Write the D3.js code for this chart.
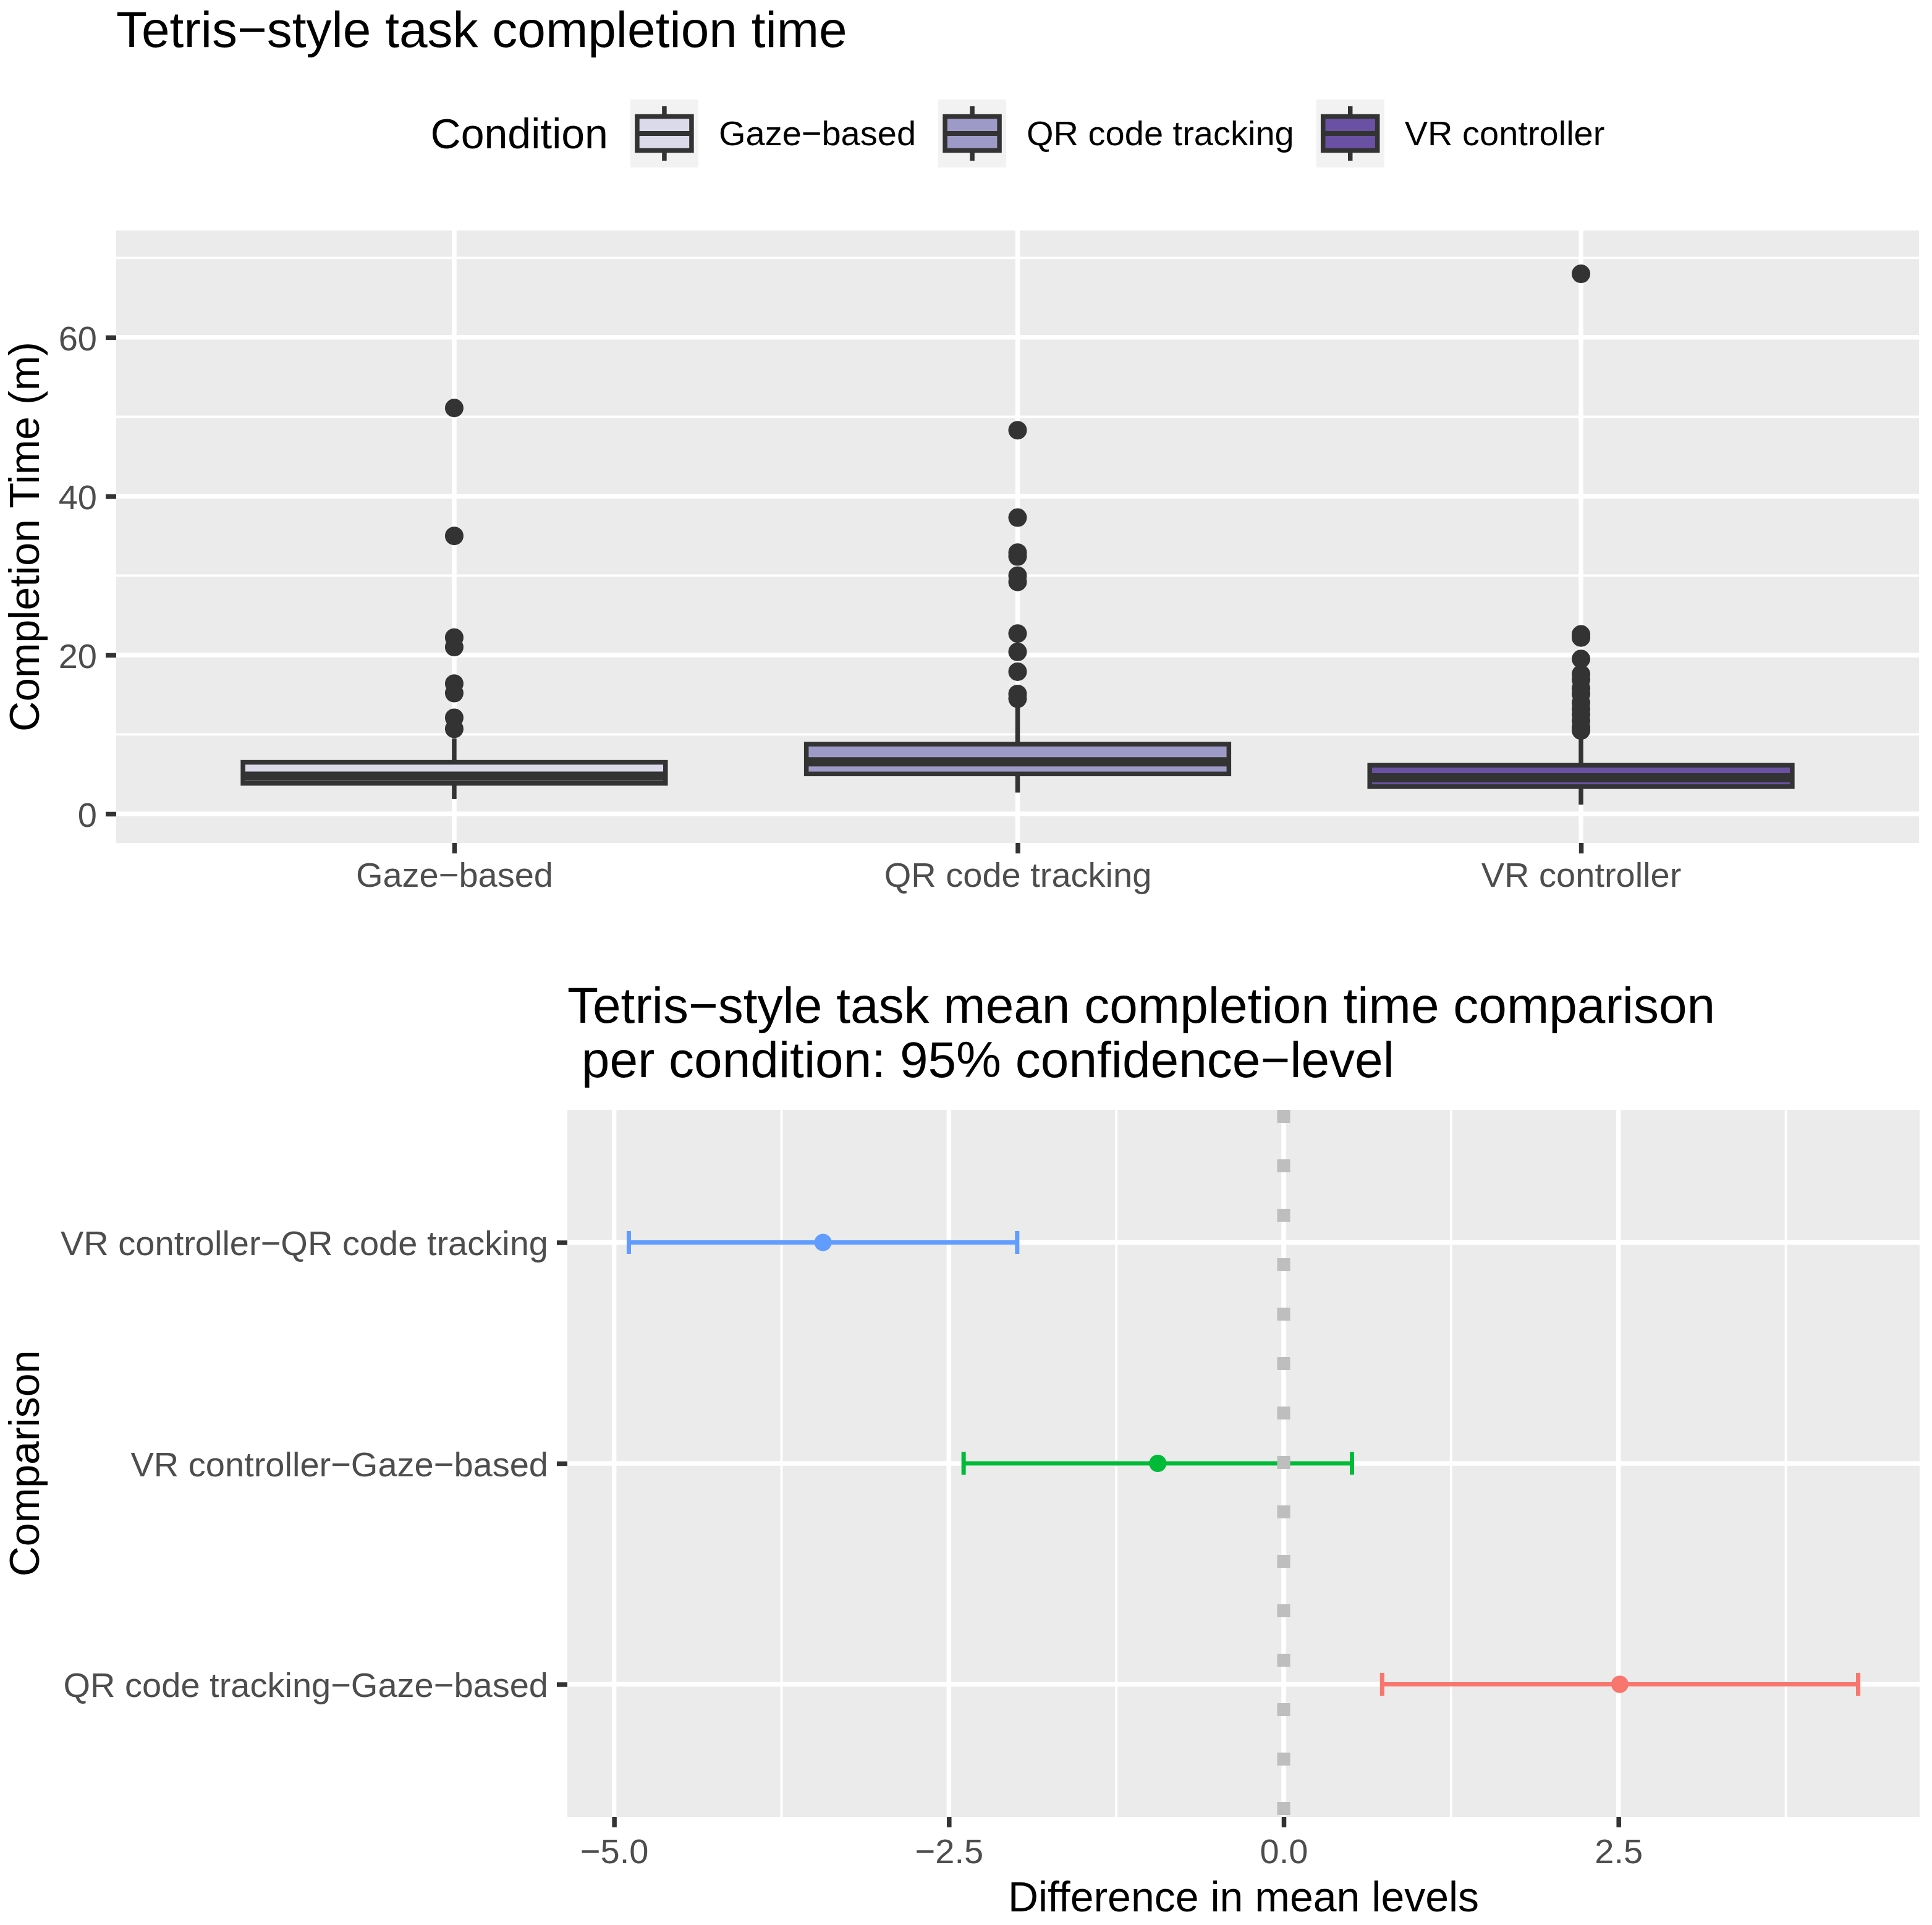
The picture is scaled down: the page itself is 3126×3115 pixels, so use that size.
<!DOCTYPE html>
<html>
<head>
<meta charset="utf-8">
<script src="https://cdn.jsdelivr.net/npm/d3@7"></script>
<style>
  body { margin: 0; background: #ffffff; }
  text { font-family: "Liberation Sans", Arial, sans-serif; }
</style>
</head>
<body>
<div id="chart"></div>
<script>
// data
var conditions = ["Gaze\u2212based", "QR code tracking", "VR controller"];
var conditionFill = ["#DADAEB", "#9E9AC8", "#6A51A3"];
var boxLower = [1.87, 2.68, 1.17];
var boxQ1 = [3.84, 5.03, 3.43];
var boxMedian = [4.75, 6.55, 4.54];
var boxQ3 = [6.49, 8.77, 6.12];
var boxUpper = [9.5, 13.8, 10.0];
var outliersGaze = [51.1, 35.0, 22.2, 21.0, 16.4, 15.2, 12.1, 10.7];
var outliersQR = [48.3, 37.3, 32.9, 32.4, 30.0, 29.2, 22.7, 20.4, 17.9, 15.1, 14.5];
var outliersVR = [68.0, 22.6, 22.2, 19.5, 17.6, 16.9, 15.8, 15.1, 14.0, 13.2, 12.5, 11.7, 10.9, 10.5];
var timeTicks = [0, 20, 40, 60];
var timeMinor = [10, 30, 50, 70];

var comparisons = ["VR controller\u2212QR code tracking", "VR controller\u2212Gaze\u2212based", "QR code tracking\u2212Gaze\u2212based"];
var compColor = ["#619CFF", "#00BA38", "#F8766D"];
var diffEstimate = [-3.44, -0.94, 2.51];
var diffLower = [-4.89, -2.39, 0.735];
var diffUpper = [-1.99, 0.51, 4.29];
var diffTicks = [-5, -2.5, 0, 2.5];
var diffMinor = [-3.75, -1.25, 1.25, 3.75];

var svgWidth = 3126;
var svgHeight = 3115;

var svg = d3.select("#chart")
  .append("svg")
  .attr("width", svgWidth)
  .attr("height", svgHeight);

var axisTextColor = "#4D4D4D";
var dark = "#333333";
var tickLen = 17;
var smallFont = 56;

// ================= top plot: box plots =================
var p1 = {left: 188, right: 3105, top: 373, bottom: 1364};

var boxData = conditions.map(function(c, i) {
  return {
    name: c, fill: conditionFill[i],
    lo: boxLower[i], q1: boxQ1[i], med: boxMedian[i], q3: boxQ3[i], hi: boxUpper[i],
    out: [outliersGaze, outliersQR, outliersVR][i]
  };
});

var xCond = d3.scalePoint()
  .domain(conditions)
  .range([p1.left, p1.right])
  .padding(0.6);

var yTime = d3.scaleLinear()
  .domain([-3.66, 73.45])
  .range([p1.bottom, p1.top]);

svg.append("text")
  .attr("x", p1.left)
  .attr("y", 76)
  .attr("font-size", 82)
  .attr("fill", "#000")
  .text("Tetris\u2212style task completion time");

// legend
var legend = svg.append("g");
var legTitle = legend.append("text")
  .attr("y", 240)
  .attr("font-size", 68)
  .attr("fill", "#000")
  .text("Condition");
var legItems = conditions.map(function(c) {
  return legend.append("text")
    .attr("y", 235)
    .attr("font-size", smallFont)
    .attr("fill", "#000")
    .text(c);
});
var keySize = 110;
var total = legTitle.node().getComputedTextLength();
legItems.forEach(function(t) { total += 36 + keySize + 33 + t.node().getComputedTextLength(); });
var lx = (p1.left + p1.right) / 2 - total / 2;
legTitle.attr("x", lx);
lx += legTitle.node().getComputedTextLength() + 36;
var keyTop = 161;
legItems.forEach(function(t, i) {
  var k = legend.append("g").attr("transform", "translate(" + lx + "," + keyTop + ")");
  k.append("rect").attr("width", keySize).attr("height", keySize).attr("fill", "#F2F2F2");
  k.append("line").attr("x1", keySize / 2).attr("x2", keySize / 2).attr("y1", 0.1 * keySize).attr("y2", 0.9 * keySize)
    .attr("stroke", dark).attr("stroke-width", 7.5);
  k.append("rect").attr("x", 0.1 * keySize).attr("y", 0.25 * keySize)
    .attr("width", 0.8 * keySize).attr("height", 0.5 * keySize)
    .attr("fill", conditionFill[i]).attr("stroke", dark).attr("stroke-width", 7.5);
  k.append("line").attr("x1", 0.1 * keySize).attr("x2", 0.9 * keySize).attr("y1", keySize / 2).attr("y2", keySize / 2)
    .attr("stroke", dark).attr("stroke-width", 8);
  lx += keySize + 33;
  t.attr("x", lx);
  lx += t.node().getComputedTextLength() + 36;
});

// panel + grid
svg.append("rect")
  .attr("x", p1.left).attr("y", p1.top)
  .attr("width", p1.right - p1.left).attr("height", p1.bottom - p1.top)
  .attr("fill", "#EBEBEB");

svg.selectAll(".minor1").data(timeMinor).enter().append("line")
  .attr("x1", p1.left).attr("x2", p1.right)
  .attr("y1", d => yTime(d)).attr("y2", d => yTime(d))
  .attr("stroke", "#fff").attr("stroke-width", 3.8);
svg.selectAll(".major1").data(timeTicks).enter().append("line")
  .attr("x1", p1.left).attr("x2", p1.right)
  .attr("y1", d => yTime(d)).attr("y2", d => yTime(d))
  .attr("stroke", "#fff").attr("stroke-width", 7.5);
svg.selectAll(".vmajor1").data(conditions).enter().append("line")
  .attr("x1", d => xCond(d)).attr("x2", d => xCond(d))
  .attr("y1", p1.top).attr("y2", p1.bottom)
  .attr("stroke", "#fff").attr("stroke-width", 7.5);

// axes
var leftAxis1 = d3.axisLeft(yTime).tickValues(timeTicks).tickSize(tickLen).tickPadding(14);
var gy1 = svg.append("g").attr("transform", "translate(" + p1.left + ",0)").call(leftAxis1);
var bottomAxis1 = d3.axisBottom(xCond).tickSize(tickLen).tickPadding(14);
var gx1 = svg.append("g").attr("transform", "translate(0," + p1.bottom + ")").call(bottomAxis1);
[gy1, gx1].forEach(function(g) {
  g.select(".domain").remove();
  g.selectAll(".tick line").attr("stroke", dark).attr("stroke-width", 7.5);
  g.selectAll(".tick text").attr("fill", axisTextColor).attr("font-size", smallFont)
    .attr("font-family", "'Liberation Sans', Arial, sans-serif");
});
gx1.selectAll(".tick text").attr("dy", null).attr("y", 1435 - p1.bottom);
gy1.selectAll(".tick text").attr("dy", "0.36em");

svg.append("text")
  .attr("transform", "translate(63," + (p1.top + p1.bottom) / 2 + ") rotate(-90)")
  .attr("text-anchor", "middle")
  .attr("font-size", 68)
  .attr("fill", "#000")
  .text("Completion Time (m)");

// boxes
var boxW = xCond.step() * 0.75;
var boxes = svg.selectAll(".box").data(boxData).enter().append("g");
boxes.append("line")
  .attr("x1", d => xCond(d.name)).attr("x2", d => xCond(d.name))
  .attr("y1", d => yTime(d.hi)).attr("y2", d => yTime(d.q3))
  .attr("stroke", dark).attr("stroke-width", 7.5);
boxes.append("line")
  .attr("x1", d => xCond(d.name)).attr("x2", d => xCond(d.name))
  .attr("y1", d => yTime(d.q1)).attr("y2", d => yTime(d.lo))
  .attr("stroke", dark).attr("stroke-width", 7.5);
boxes.append("rect")
  .attr("x", d => xCond(d.name) - boxW / 2)
  .attr("y", d => yTime(d.q3))
  .attr("width", boxW)
  .attr("height", d => yTime(d.q1) - yTime(d.q3))
  .attr("fill", d => d.fill)
  .attr("stroke", dark).attr("stroke-width", 7.5);
boxes.append("line")
  .attr("x1", d => xCond(d.name) - boxW / 2).attr("x2", d => xCond(d.name) + boxW / 2)
  .attr("y1", d => yTime(d.med)).attr("y2", d => yTime(d.med))
  .attr("stroke", dark).attr("stroke-width", 15);
boxes.selectAll("circle")
  .data(d => d.out.map(v => ({name: d.name, v: v})))
  .enter().append("circle")
  .attr("cx", d => xCond(d.name))
  .attr("cy", d => yTime(d.v))
  .attr("r", 15)
  .attr("fill", dark);

// ================= bottom plot: Tukey intervals =================
var p2 = {left: 918, right: 3106, top: 1796, bottom: 2940};

var cmpData = comparisons.map(function(c, i) {
  return {name: c, color: compColor[i], est: diffEstimate[i], lwr: diffLower[i], upr: diffUpper[i]};
});

var lo = d3.min(diffLower), hi = d3.max(diffUpper);
var pad = (hi - lo) * 0.05;
var xDiff = d3.scaleLinear()
  .domain([lo - pad, hi + pad])
  .range([p2.left, p2.right]);

var yCmp = d3.scalePoint()
  .domain(comparisons)
  .range([p2.top, p2.bottom])
  .padding(0.6);

svg.append("text")
  .attr("x", p2.left)
  .attr("y", 1655)
  .attr("font-size", 82)
  .attr("fill", "#000")
  .text("Tetris\u2212style task mean completion time comparison");
svg.append("text")
  .attr("x", p2.left)
  .attr("y", 1743)
  .attr("font-size", 82)
  .attr("fill", "#000")
  .style("white-space", "pre")
  .text(" per condition: 95% confidence\u2212level");

svg.append("rect")
  .attr("x", p2.left).attr("y", p2.top)
  .attr("width", p2.right - p2.left).attr("height", p2.bottom - p2.top)
  .attr("fill", "#EBEBEB");

svg.selectAll(".minor2").data(diffMinor).enter().append("line")
  .attr("x1", d => xDiff(d)).attr("x2", d => xDiff(d))
  .attr("y1", p2.top).attr("y2", p2.bottom)
  .attr("stroke", "#fff").attr("stroke-width", 3.8);
svg.selectAll(".major2").data(diffTicks).enter().append("line")
  .attr("x1", d => xDiff(d)).attr("x2", d => xDiff(d))
  .attr("y1", p2.top).attr("y2", p2.bottom)
  .attr("stroke", "#fff").attr("stroke-width", 7.5);
svg.selectAll(".hmajor2").data(comparisons).enter().append("line")
  .attr("x1", p2.left).attr("x2", p2.right)
  .attr("y1", d => yCmp(d)).attr("y2", d => yCmp(d))
  .attr("stroke", "#fff").attr("stroke-width", 7.5);

var leftAxis2 = d3.axisLeft(yCmp).tickSize(tickLen).tickPadding(14);
var gy2 = svg.append("g").attr("transform", "translate(" + p2.left + ",0)").call(leftAxis2);
var bottomAxis2 = d3.axisBottom(xDiff).tickValues(diffTicks).tickFormat(d3.format(".1f")).tickSize(tickLen).tickPadding(14);
var gx2 = svg.append("g").attr("transform", "translate(0," + p2.bottom + ")").call(bottomAxis2);
[gy2, gx2].forEach(function(g) {
  g.select(".domain").remove();
  g.selectAll(".tick line").attr("stroke", dark).attr("stroke-width", 7.5);
  g.selectAll(".tick text").attr("fill", axisTextColor).attr("font-size", smallFont)
    .attr("font-family", "'Liberation Sans', Arial, sans-serif");
});
gx2.selectAll(".tick text").attr("dy", null).attr("y", 3015 - p2.bottom);
gy2.selectAll(".tick text").attr("dy", "0.36em");

svg.append("text")
  .attr("transform", "translate(63," + (p2.top + p2.bottom) / 2 + ") rotate(-90)")
  .attr("text-anchor", "middle")
  .attr("font-size", 68)
  .attr("fill", "#000")
  .text("Comparison");
svg.append("text")
  .attr("x", (p2.left + p2.right) / 2)
  .attr("y", 3093)
  .attr("text-anchor", "middle")
  .attr("font-size", 68)
  .attr("fill", "#000")
  .text("Difference in mean levels");

// error bars
var bars = svg.selectAll(".bar").data(cmpData).enter().append("g");
bars.append("line")
  .attr("x1", d => xDiff(d.lwr)).attr("x2", d => xDiff(d.upr))
  .attr("y1", d => yCmp(d.name)).attr("y2", d => yCmp(d.name))
  .attr("stroke", d => d.color).attr("stroke-width", 7);
bars.append("line")
  .attr("x1", d => xDiff(d.lwr)).attr("x2", d => xDiff(d.lwr))
  .attr("y1", d => yCmp(d.name) - 18.5).attr("y2", d => yCmp(d.name) + 18.5)
  .attr("stroke", d => d.color).attr("stroke-width", 7);
bars.append("line")
  .attr("x1", d => xDiff(d.upr)).attr("x2", d => xDiff(d.upr))
  .attr("y1", d => yCmp(d.name) - 18.5).attr("y2", d => yCmp(d.name) + 18.5)
  .attr("stroke", d => d.color).attr("stroke-width", 7);
bars.append("circle")
  .attr("cx", d => xDiff(d.est))
  .attr("cy", d => yCmp(d.name))
  .attr("r", 14)
  .attr("fill", d => d.color);

// zero reference line
svg.append("line")
  .attr("x1", xDiff(0)).attr("x2", xDiff(0))
  .attr("y1", p2.top).attr("y2", p2.bottom)
  .attr("stroke", "#BEBEBE")
  .attr("stroke-width", 21)
  .attr("stroke-dasharray", "21 59");
</script>
</body>
</html>
